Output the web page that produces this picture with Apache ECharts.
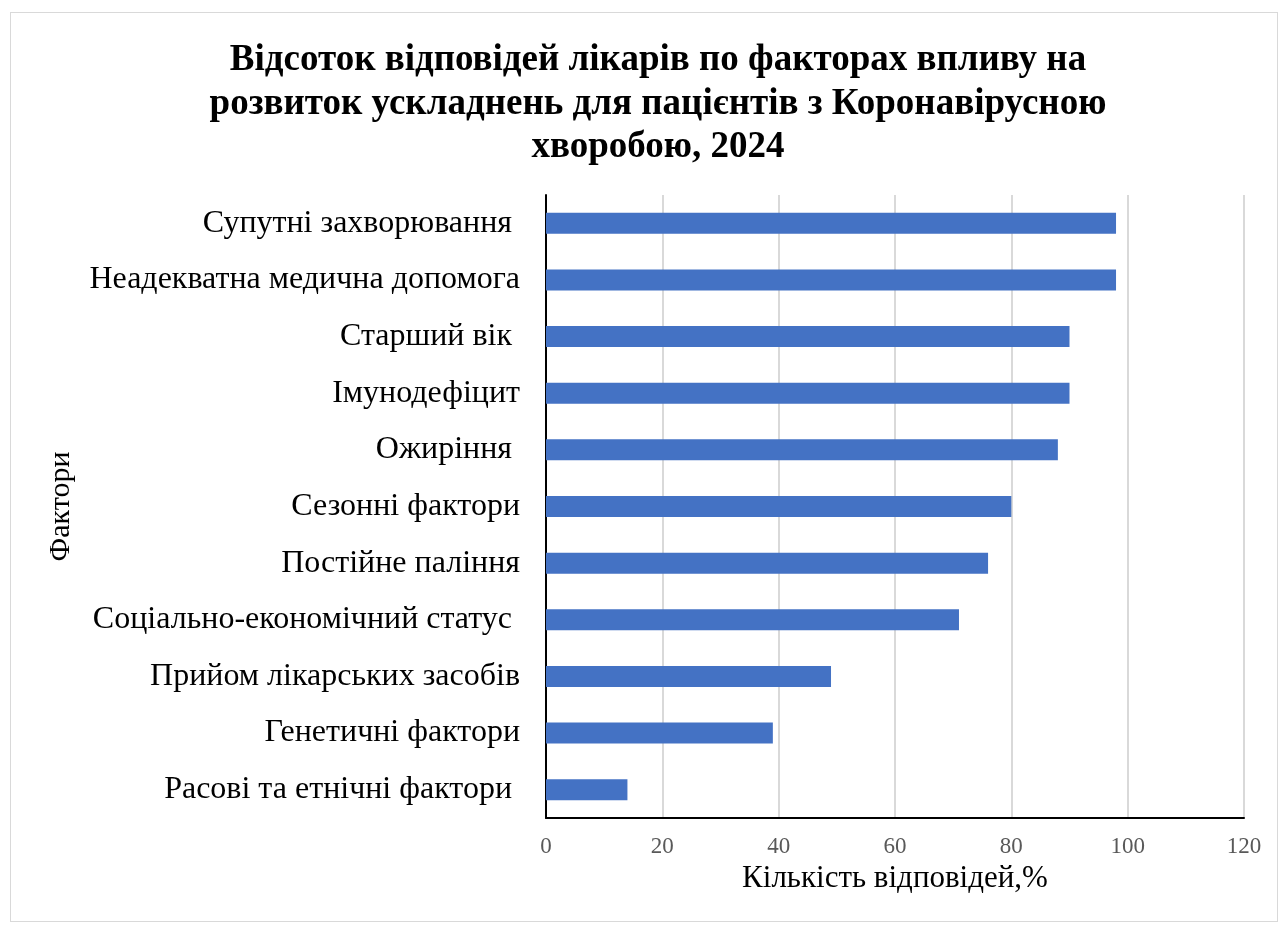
<!DOCTYPE html>
<html>
<head>
<meta charset="utf-8">
<script src="https://cdn.jsdelivr.net/npm/echarts@6/dist/echarts.min.js"></script>
<style>
  html, body { margin: 0; padding: 0; background: #fff; }
  #frame { position: absolute; left: 10px; top: 12px; width: 1268px; height: 910px; border: 1px solid #d9d9d9; box-sizing: border-box; }
  #chart { width: 1282px; height: 927px; position: absolute; left: 0; top: 0; }
</style>
</head>
<body>
<div id="frame"></div>
<div id="chart"></div>
<script>
// Factors (bottom to top as drawn on the category axis)
const factors = [
  'Расові та етнічні фактори ',
  'Генетичні фактори',
  'Прийом лікарських засобів',
  'Соціально-економічний статус ',
  'Постійне паління',
  'Сезонні фактори',
  'Ожиріння ',
  'Імунодефіцит',
  'Старший вік ',
  'Неадекватна медична допомога',
  'Супутні захворювання '
];
// Share of physicians' answers, %
const shares = [14, 39, 49, 71, 76, 80, 88, 90, 90, 98, 98];
const xTicks = [0, 20, 40, 60, 80, 100, 120];

const serif = '"Liberation Serif", "Times New Roman", serif';
const chart = echarts.init(document.getElementById('chart'), null, { renderer: 'canvas' });
chart.setOption({
  animation: false,
  title: {
    text: 'Відсоток відповідей лікарів по факторах впливу на\nрозвиток ускладнень для пацієнтів з Коронавірусною\nхворобою, 2024',
    left: 653, top: 34, textAlign: 'center',
    textStyle: { fontFamily: serif, fontWeight: 'bold', fontSize: 37, lineHeight: 43.5, color: '#000' }
  },
  grid: { left: 546, right: 38, top: 195, bottom: 109, containLabel: false },
  xAxis: {
    type: 'value', min: xTicks[0], max: xTicks[xTicks.length - 1], interval: 20,
    name: 'Кількість відповідей,%', nameLocation: 'middle', nameGap: 44,
    nameTextStyle: { fontFamily: serif, fontSize: 31, color: '#000' },
    axisLine: { show: true, lineStyle: { color: '#000', width: 2 } },
    axisTick: { show: false },
    axisLabel: { fontFamily: serif, fontSize: 23, color: '#595959', margin: 17 },
    splitLine: { show: true, lineStyle: { color: '#d9d9d9', width: 2 } }
  },
  yAxis: {
    type: 'category', data: factors,
    name: 'Фактори', nameLocation: 'middle', nameGap: 470, nameRotate: 90,
    nameTextStyle: { fontFamily: serif, fontSize: 30, color: '#000' },
    axisLine: { show: true, lineStyle: { color: '#000', width: 2 } },
    axisTick: { show: false },
    axisLabel: { fontFamily: serif, fontSize: 32, color: '#000', margin: 26 },
    splitLine: { show: false }
  },
  series: [{
    type: 'bar', data: shares, barWidth: 21,
    itemStyle: { color: '#4472c4' }
  }]
});
</script>
</body>
</html>
